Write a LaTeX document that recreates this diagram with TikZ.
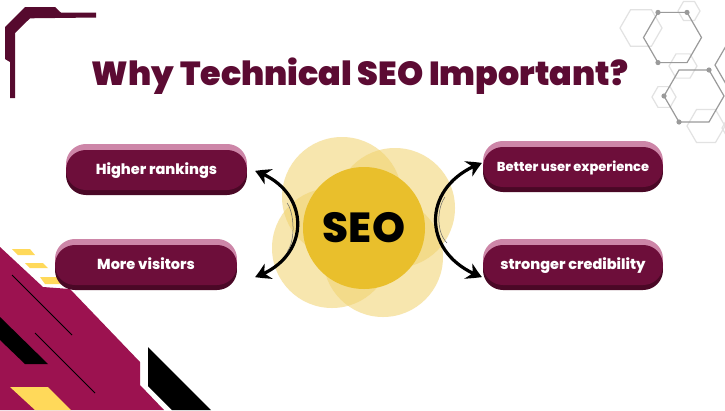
\documentclass[tikz,border=0pt]{standalone}
\usepackage{fontspec}
\setmainfont{Poppins}[BoldFont={Poppins ExtraBold}]
\newfontfamily\popblack{Poppins Black}
\usetikzlibrary{arrows.meta,bending}
\definecolor{cTitle}{HTML}{5C0B33}
\definecolor{cCorner}{HTML}{560A2E}
\definecolor{cPill}{HTML}{6D0E3A}
\definecolor{cPink}{HTML}{CD86A8}
\definecolor{cDark}{HTML}{4A0826}
\definecolor{cGold}{HTML}{E9BF2C}
\definecolor{cLight}{HTML}{F1D26D}
\definecolor{cMag}{HTML}{9C1250}
\definecolor{cYel}{HTML}{FFD95A}
\definecolor{cHexD}{HTML}{9A9A9A}
\definecolor{cHexL}{HTML}{E2E2E2}
\newcommand\hexa[4]{\draw[#4] (#1,#2) +(0:#3) -- +(60:#3) -- +(120:#3) -- +(180:#3) -- +(240:#3) -- +(300:#3) -- cycle;}
\newcommand\mypill[6]{%
  \node[pillshape, minimum width=#4, fill=cPink] (#1-top) at (#2,#3-6) {};
  \node[pillshape, minimum width=#4, fill=cDark] (#1-base) at (#2,#3+5) {};
  \node[pillshape, minimum width=#4, fill=cPill, text=white, text height=10.5pt, text depth=2.5pt, font=\bfseries\fontsize{#6}{16}\selectfont] (#1) at (#2,#3) {#5};}
\begin{document}
\begin{tikzpicture}[x=1pt,y=-1pt,
  pillshape/.style={rectangle, rounded corners=19.9pt, minimum height=40pt, inner sep=0pt},
  hexdark/.style={cHexD, line width=1.2pt},
  hexlight/.style={cHexL, line width=1.2pt},
  arr/.style={line width=3.2pt, {Stealth[length=15pt,width=17pt,inset=5pt,bend]}-{Stealth[length=15pt,width=17pt,inset=5pt,bend]}},
  softcircle/.style={fill=cLight, opacity=0.55}]
\useasboundingbox (0,0) rectangle (725,410);
\clip (0,0) rectangle (725,410);
\fill[white] (0,0) rectangle (725,410);

% top-left corner bracket
\fill[cCorner] (25,7) -- (55,7) -- (61,12.7) -- (96,12.7) -- (96,17.5) -- (30,18.3) -- (15,33) -- (15,98) -- (10,98) -- (10,62) -- (5,59) -- (5,27) -- cycle;

% hexagons top right
\hexa{641}{28}{21}{hexlight}
\hexa{689}{11}{11}{hexlight}
\hexa{683}{66}{14}{hexlight}
\hexa{664}{97}{12}{hexlight}
\hexa{706}{126}{19}{hexlight}
\hexa{742}{128}{20}{hexlight}
\hexa{672.5}{37.5}{29}{hexdark}
\hexa{694}{96}{30}{hexdark}
\hexa{745}{65}{30}{hexdark}
\foreach \p in {(658,12.4),(687,12.4),(658,62.6),(709,70),(664,96),(679,122)}
  \fill[cHexD] \p circle (2.6pt);

% title
\node[font=\popblack\fontsize{36}{40}\selectfont, text=cTitle, anchor=base] (title) at (360,85) {\resizebox{536pt}{!}{Why Technical SEO Important?}};

% bottom-left decoration
\fill[cMag] (0,247) -- (43,287) -- (70,289) -- (140,362) -- (140,385) -- (164,410) -- (0,410) -- cycle;
\fill[black] (0,317) -- (48,364) -- (25,364) -- (0,340) -- cycle;
\draw[black, line width=0.8pt] (12,275) -- (72,335);
\draw[black, line width=0.8pt] (35,333) -- (95,393);
\fill[cYel] (12,249) -- (30,249) -- (35,255) -- (18,255) -- cycle;
\fill[cYel] (25,263) -- (43,263) -- (48,268) -- (30,268) -- cycle;
\fill[cYel] (40,277) -- (58,277) -- (63,284) -- (45,284) -- cycle;
\fill[cYel] (10,387) -- (48,387) -- (71,410) -- (35,410) -- cycle;
\fill[black] (148,347) -- (211,410) -- (172,410) -- (148,386) -- cycle;

% circles
\fill[softcircle] (342,197) circle[radius=60pt];
\fill[softcircle] (395,208) circle[radius=60pt];
\fill[softcircle] (332,248) circle[radius=60pt];
\fill[softcircle] (383,257) circle[radius=60pt];
\node[circle, fill=cGold, minimum size=122pt, inner sep=0pt, font=\bfseries\fontsize{42}{44}\selectfont] (seo) at (364,228) {SEO};

% pills
\mypill{p1}{156.5}{170}{181pt}{Higher rankings}{14.5}
\mypill{p2}{146}{265}{182pt}{More visitors}{14.5}
\mypill{p3}{573}{167}{180pt}{Better user experience}{13}
\mypill{p4}{573}{265}{180pt}{stronger credibility}{14.5}

% arrows
\coordinate (la1) at (255,171);
\coordinate (la2) at (255,277);
\coordinate (ra1) at (482,163);
\coordinate (ra2) at (482,277);
\draw[arr] (la1) .. controls (312,190) and (312,258) .. (la2);
\draw[arr] (ra1) .. controls (420,185) and (420,255) .. (ra2);
\draw[black!60, line width=0.5pt] (287,203) .. controls (294,212) and (296,240) .. (287,252);
\draw[black!60, line width=0.5pt] (445,197) .. controls (437,208) and (436,232) .. (447,243);
\end{tikzpicture}
\end{document}
